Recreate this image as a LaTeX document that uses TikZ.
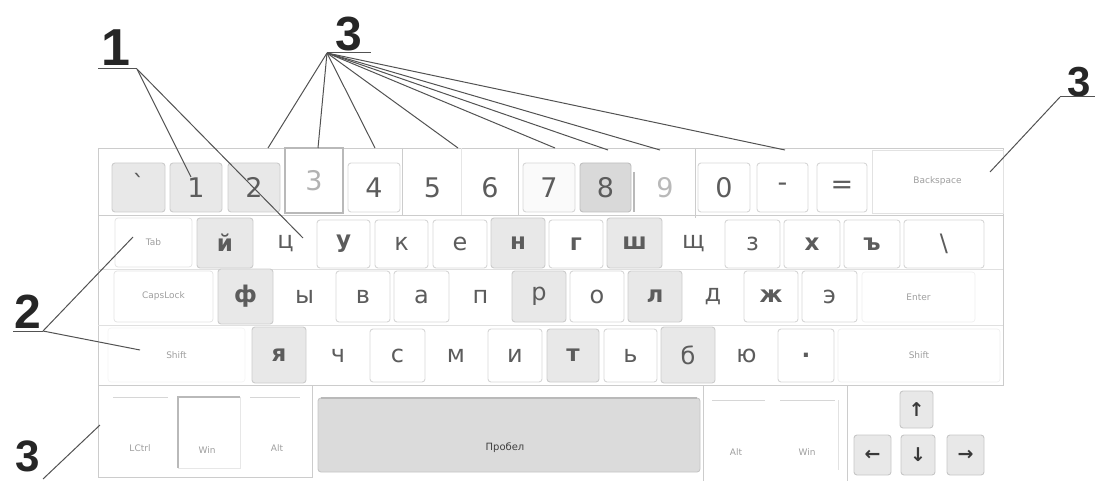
\documentclass[tikz,border=0pt]{standalone}
\usepackage{fontspec}
\setmainfont{DejaVu Sans}
\newfontfamily\keyfont{DejaVu Sans}[Ligatures=TeXOff]
\newfontfamily\calloutfont{Liberation Sans}
\usetikzlibrary{calc}

\definecolor{frameline}{gray}{0.80}
\definecolor{keyedge}{gray}{0.84}
\definecolor{keyshade}{gray}{0.91}
\definecolor{keyshadedark}{gray}{0.85}
\definecolor{keytext}{gray}{0.36}
\definecolor{smalltext}{gray}{0.62}
\definecolor{leader}{gray}{0.32}
\definecolor{spacefill}{gray}{0.86}

\tikzset{
  keybase/.style={rounded corners=3pt, inner sep=0pt, outer sep=0pt, text=keytext,
    font=\keyfont\fontsize{24}{24}\selectfont},
  digitkey/.style={keybase, font=\keyfont\fontsize{27}{27}\selectfont},
  lightkey/.style={keybase, draw=keyedge, line width=0.9pt},
  shadekey/.style={keybase, draw=gray!40, fill=keyshade, line width=0.9pt},
  darkkey/.style={keybase, draw=gray!50, fill=keyshadedark, line width=0.9pt},
  plainkey/.style={keybase},
  boldkey/.style={font=\keyfont\bfseries\fontsize{23}{23}\selectfont},
  modkey/.style={keybase, draw=keyedge!70, line width=0.7pt, text=smalltext,
    font=\keyfont\fontsize{9}{9}\selectfont},
  modtext/.style={inner sep=0pt, text=smalltext, font=\keyfont\fontsize{9}{9}\selectfont},
  arrowkey/.style={keybase, draw=gray!45, fill=keyshade, line width=0.9pt, text=gray!45!black,
    font=\keyfont\bfseries\fontsize{19}{19}\selectfont},
  frame/.style={draw=frameline, line width=0.9pt},
  leaderline/.style={draw=leader, line width=1pt},
  callout/.style={inner sep=0pt, text=black!85, font=\calloutfont\bfseries\fontsize{48}{48}\selectfont},
}

% \kb{name}{x1}{y1}{x2}{y2}{style}{text}: a key from corner (x1,y1) to corner (x2,y2)
\newcommand\kb[7]{%
  \node[#6, minimum width={(#4)-(#2)}, minimum height={(#5)-(#3)}]
    (#1) at ({((#2)+(#4))/2},{((#3)+(#5))/2}) {#7};}

\begin{document}
\begin{tikzpicture}[x=1pt, y=-1pt]
\useasboundingbox (0,0) rectangle (1095,481);

% ---------- keyboard frame ----------
\draw[frame] (98,148) rectangle (1003,385);
\draw[frame] (98,215) -- (1003,215);
\draw[frame, draw=frameline!60] (98,269) -- (1003,269);
\draw[frame, draw=frameline!60] (98,325) -- (1003,325);
\draw[frame] (402,148) -- (402,215);
\draw[frame, draw=frameline!50] (461,148) -- (461,215);
\draw[frame] (518,148) -- (518,215);
\draw[frame] (695,148) -- (695,218);
\draw[draw=gray!55, line width=1.4pt] (634,172) -- (634,212);

% ---------- number row ----------
\kb{kgrave}{112}{163}{165}{212}{shadekey}{\raisebox{9pt}{\symbol{96}}}
\kb{kone}{170}{163}{222}{212}{shadekey, digitkey, draw=gray!40, fill=keyshade}{1}
\kb{ktwo}{228}{163}{280}{212}{shadekey, digitkey, draw=gray!40, fill=keyshade}{2}
\kb{kthree}{285}{148}{343}{213}{digitkey, rounded corners=0pt, draw=gray!55, line width=1.1pt, fill=white, text=gray!60}{3}
\kb{kfour}{348}{163}{400}{212}{lightkey, digitkey, draw=keyedge}{4}
\kb{kfive}{407}{163}{458}{212}{plainkey, digitkey}{5}
\kb{ksix}{465}{163}{515}{212}{plainkey, digitkey}{6}
\kb{kseven}{523}{163}{575}{212}{lightkey, digitkey, draw=keyedge, fill=gray!4}{7}
\kb{keight}{580}{163}{631}{212}{darkkey, digitkey, draw=gray!50, fill=keyshadedark}{8}
\kb{knine}{640}{163}{690}{212}{plainkey, digitkey, text=gray!55}{9}
\kb{kzero}{698}{163}{750}{212}{lightkey, digitkey, draw=keyedge}{0}
\kb{kminus}{757}{163}{808}{212}{lightkey, digitkey, draw=keyedge}{-}
\kb{kequal}{817}{163}{867}{212}{lightkey, digitkey, draw=keyedge}{=}
\kb{kback}{872}{150}{1003}{213}{modkey, rounded corners=0pt}{Backspace}

% ---------- upper letter row ----------
\kb{ktab}{115}{218}{192}{267}{modkey}{Tab}
\kb{kshort}{197}{218}{253}{268}{shadekey, boldkey}{й}
\kb{ktse}{258}{220}{313}{268}{plainkey}{ц}
\kb{ku}{317}{220}{370}{268}{lightkey, boldkey}{у}
\kb{kka}{375}{220}{428}{268}{lightkey}{к}
\kb{kie}{433}{220}{487}{268}{lightkey}{е}
\kb{ken}{491}{218}{545}{268}{shadekey, boldkey}{н}
\kb{kghe}{549}{220}{603}{268}{lightkey, boldkey}{г}
\kb{ksha}{607}{218}{662}{268}{shadekey, boldkey}{ш}
\kb{kshcha}{666}{220}{721}{268}{plainkey}{щ}
\kb{kze}{725}{220}{780}{268}{lightkey}{з}
\kb{kha}{784}{220}{840}{268}{lightkey, boldkey}{х}
\kb{khard}{844}{220}{900}{268}{lightkey, boldkey}{ъ}
\kb{kbslash}{904}{220}{984}{268}{lightkey}{\textbackslash}

% ---------- home row ----------
\kb{kcaps}{114}{271}{213}{322}{modkey}{CapsLock}
\kb{kef}{218}{269}{273}{324}{shadekey, boldkey}{ф}
\kb{kyeru}{277}{271}{332}{322}{plainkey}{ы}
\kb{kve}{336}{271}{390}{322}{lightkey}{в}
\kb{ka}{394}{271}{449}{322}{lightkey}{а}
\kb{kpe}{453}{271}{508}{322}{plainkey}{п}
\kb{ker}{512}{271}{566}{322}{shadekey}{р}
\kb{ko}{570}{271}{624}{322}{lightkey}{о}
\kb{kel}{628}{271}{682}{322}{shadekey, boldkey}{л}
\kb{kde}{686}{271}{740}{322}{plainkey}{д}
\kb{kzhe}{744}{271}{798}{322}{lightkey, boldkey}{ж}
\kb{ke}{802}{271}{857}{322}{lightkey}{э}
\kb{kenter}{862}{272}{975}{322}{modkey, draw=keyedge!40}{Enter}

% ---------- lower letter row ----------
\kb{kshiftl}{108}{328}{245}{382}{modkey, draw=keyedge!25}{Shift}
\kb{kya}{252}{327}{306}{383}{shadekey, boldkey}{я}
\kb{kche}{310}{329}{366}{382}{plainkey}{ч}
\kb{kes}{370}{329}{425}{382}{lightkey}{с}
\kb{kem}{428}{329}{484}{382}{plainkey}{м}
\kb{ki}{488}{329}{542}{382}{lightkey}{и}
\kb{kte}{547}{329}{599}{382}{shadekey, boldkey}{т}
\kb{ksoft}{604}{329}{657}{382}{lightkey}{ь}
\kb{kbe}{661}{327}{715}{383}{shadekey}{б}
\kb{kyu}{719}{329}{774}{382}{plainkey}{ю}
\kb{kdot}{778}{329}{834}{382}{lightkey, boldkey}{.}
\kb{kshiftr}{838}{329}{1000}{382}{modkey, draw=keyedge!40}{Shift}

% ---------- bottom row ----------
\draw[frame] (98,385) rectangle (312,477);
\draw[draw=keyedge, line width=0.9pt] (113,397) -- (168,397);
\draw[draw=keyedge, line width=0.9pt] (250,397) -- (300,397);
\node[modtext] (klctrl) at (140,448) {LCtrl};
\kb{kwinl}{178}{397}{240}{468}{modkey, rounded corners=0pt, draw=keyedge!60}{}
\draw[draw=gray!55, line width=1.3pt] (kwinl.south west) -- (kwinl.north west) -- (kwinl.north east);
\node[modtext] (kwinltext) at (207,450) {Win};
\node[modtext] (kaltl) at (277,448) {Alt};
\kb{kspace}{318}{398}{700}{472}{keybase, draw=gray!45, fill=spacefill, line width=0.9pt}{}
\draw[draw=gray!55, line width=1.3pt] ([xshift=3pt]kspace.north west) -- ([xshift=-3pt]kspace.north east);
\node[inner sep=0pt, text=gray!50!black, font=\keyfont\fontsize{10}{10}\selectfont] (kspacetext) at (505,448) {Пробел};

\draw[frame] (703,385) -- (703,481);
\draw[draw=keyedge, line width=0.9pt] (712,400) -- (765,400);
\draw[draw=keyedge, line width=0.9pt] (780,400) -- (835,400);
\draw[draw=keyedge!70, line width=0.8pt] (838,400) -- (838,470);
\node[modtext] (kaltr) at (736,452) {Alt};
\node[modtext] (kwinr) at (807,452) {Win};

\draw[frame] (847,481) -- (847,386);
\kb{kup}{900}{391}{933}{428}{arrowkey}{↑}
\kb{kleft}{854}{435}{891}{475}{arrowkey}{←}
\kb{kdown}{901}{435}{935}{475}{arrowkey}{↓}
\kb{kright}{947}{435}{984}{475}{arrowkey}{→}

% ---------- callouts ----------
\node[callout, font=\calloutfont\bfseries\fontsize{52}{52}\selectfont] (lone) at (116,48) {1};
\coordinate (lone-l) at (98,69);
\coordinate (lone-r) at (137,69);
\draw[leaderline] (lone-l) -- (lone-r);
\coordinate (tone) at (191,177);
\coordinate (ttse) at (303,238);
\draw[leaderline] (lone-r) -- (tone);
\draw[leaderline] (lone-r) -- (ttse);

\node[callout] (lthree) at (349,34) {3};
\coordinate (lthree-l) at (327,53);
\coordinate (lthree-r) at (371,53);
\draw[leaderline] (lthree-l) -- (lthree-r);
\foreach \tx/\ty [count=\i] in {268/148, 318/148, 375/148, 458/148, 555/148, 608/150, 660/150, 785/150} {
  \coordinate (fan\i) at (\tx,\ty);
  \draw[leaderline] (lthree-l) -- (fan\i);
}

\node[callout, font=\calloutfont\bfseries\fontsize{42}{42}\selectfont] (lthreeb) at (1079,82) {3};
\coordinate (lthreeb-l) at (1060,97);
\coordinate (lthreeb-r) at (1095,97);
\draw[leaderline] (lthreeb-l) -- (lthreeb-r);
\coordinate (tback) at (990,172);
\draw[leaderline] (lthreeb-l) -- (tback);

\node[callout] (ltwo) at (28,312) {2};
\coordinate (ltwo-l) at (13,331);
\coordinate (ltwo-r) at (43,331);
\draw[leaderline] (ltwo-l) -- (ltwo-r);
\coordinate (ttab) at (133,237);
\coordinate (tshift) at (140,350);
\draw[leaderline] (ltwo-r) -- (ttab);
\draw[leaderline] (ltwo-r) -- (tshift);

\node[callout, font=\calloutfont\bfseries\fontsize{44}{44}\selectfont] (lthreec) at (28,456) {3};
\coordinate (lthreec-r) at (43,479);
\coordinate (tctrl) at (100,425);
\draw[leaderline] (lthreec-r) -- (tctrl);
\end{tikzpicture}
\end{document}
